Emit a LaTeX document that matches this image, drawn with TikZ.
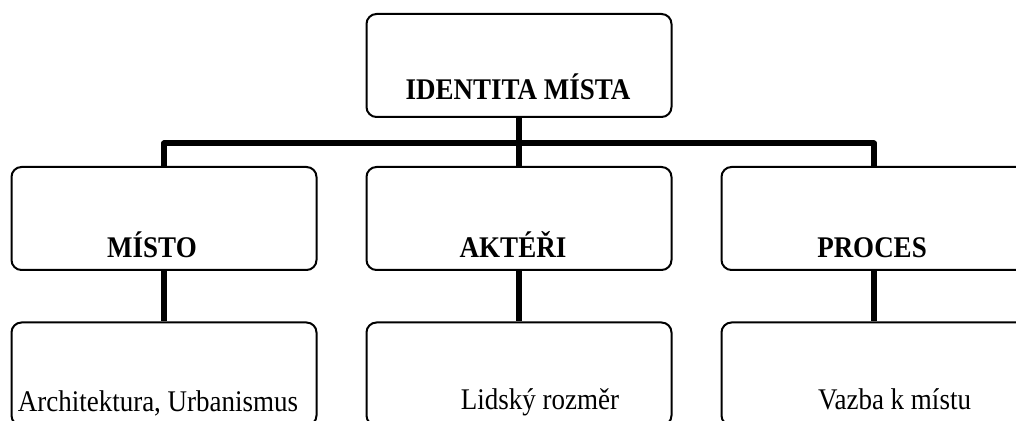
\documentclass[tikz,border=0pt]{standalone}
\usepackage{fontspec}
\setmainfont{Liberation Serif}[FakeStretch=0.9]
\usetikzlibrary{positioning}

\begin{document}
\begin{tikzpicture}
  [x=0.5pt,y=-0.5pt,
   box/.style={draw,line width=1pt,rounded corners=5pt,minimum width=152.5pt,minimum height=51.5pt,inner sep=0pt},
   head/.style={anchor=base,font=\fontsize{15}{18}\selectfont\bfseries},
   item/.style={anchor=base,font=\fontsize{15}{18}\selectfont},
   link/.style={line width=3pt,line join=round}]
  \useasboundingbox (0,0) rectangle (1016,421);
  \clip (0,0) rectangle (1016,421);
  % boxes
  \node[box] (top) at (519,65.5) {};
  \node[box] (misto) at (164,218.5) {};
  \node[box] (akteri) at (519,218.5) {};
  \node[box] (proces) at (874,218.5) {};
  \node[box] (arch) at (164,374) {};
  \node[box] (lid) at (519,374) {};
  \node[box] (vazba) at (874,374) {};
  % texts
  \node[head] (tTop) at (518,100) {IDENTITA MÍSTA};
  \node[head] (tMisto) at (152,258) {MÍSTO};
  \node[head] (tAkteri) at (513,258) {AKTÉŘI};
  \node[head] (tProces) at (872,258) {PROCES};
  \node[item] (tArch) at (158,411.5) {Architektura, Urbanismus};
  \node[item] (tLid) at (540,410) {Lidský rozměr};
  \node[item] (tVazba) at (894.5,410) {Vazba k místu};
  % connectors
  \coordinate (bar) at (519,143.5);
  \draw[link] (top.south) -- (akteri.north);
  \draw[link] (misto.north) -- (misto.north |- bar) -- (proces.north |- bar) -- (proces.north);
  \foreach \from/\to in {misto/arch, akteri/lid, proces/vazba}
    \draw[link] (\from.south) -- (\to.north);
\end{tikzpicture}
\end{document}
